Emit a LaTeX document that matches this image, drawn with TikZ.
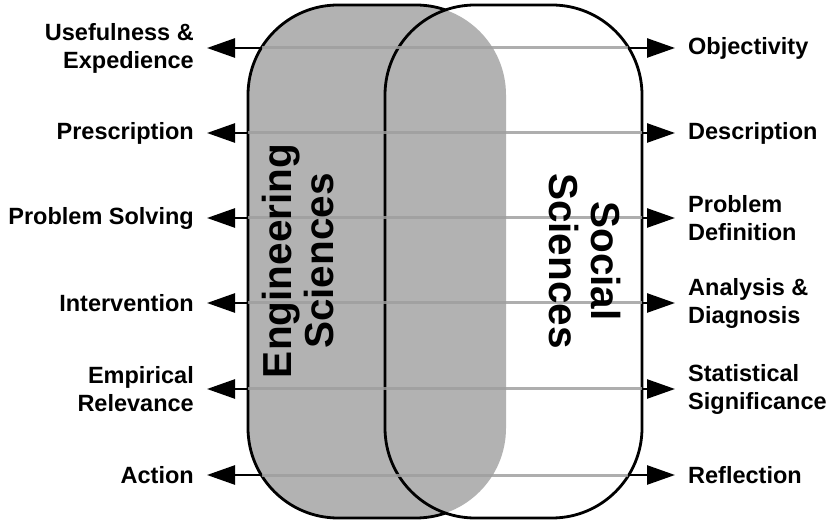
\documentclass[tikz,border=0pt]{standalone}
\usepackage{fontspec}
\setmainfont{Liberation Sans}
\usetikzlibrary{arrows.meta}

\tikzset{
	blob/.style={rounded corners=90pt},
	rim/.style={line width=2.8pt, blob},
	rowline/.style={draw=black!38, draw opacity=0.83, line width=3pt},
	arrowtip/.style={-{Triangle[length=28pt,width=19pt]}, line width=2.6pt},
	lab/.style={font=\fontsize{23.5}{28}\selectfont\bfseries, inner sep=0pt},
	big/.style={font=\fontsize{40.5}{42}\selectfont\bfseries, align=center, inner sep=0pt}
}

\begin{document}
\begin{tikzpicture}[x=1pt, y=1pt]
			%%%%% START %%%%%
			\useasboundingbox (0,0) rectangle (832,522);
			
			\fill[black!30, blob] (248,4) rectangle (506,517);
			\draw[rim] (248,4) rectangle (506,517);
			
			\begin{scope}
				\clip[blob] (385,4) rectangle (642,517);
				\fill[white] (380,0) rectangle (700,522);
				\fill[black!30, blob] (248,4) rectangle (506,517);
			\end{scope}
			\draw[rim] (385,4) rectangle (642,517);
			
			\foreach \y/\lx/\rx/\lt/\rt [count=\i] in {
				474/262/628/{Usefulness \&\\Expedience}/{Objectivity},
				389/248/642/{Prescription}/{Description},
				304/248/642/{Problem Solving}/{Problem\\Definition},
				219/248/642/{Intervention}/{Analysis \&\\Diagnosis},
				133/248/642/{Empirical\\Relevance}/{Statistical\\Significance},
				47/262/628/{Action}/{Reflection}}{
				\coordinate (a\i) at (\lx,\y);
				\coordinate (b\i) at (\rx,\y);
				\node[lab, align=right, anchor=east] (L\i) at (194,\y) {\lt};
				\node[lab, align=left, anchor=west] (R\i) at (688,\y) {\rt};
				\draw[rowline] (a\i) -- (b\i);
				\draw[arrowtip] (a\i) -- ([xshift=13pt]L\i.east);
				\draw[arrowtip] (b\i) -- ([xshift=-13pt]R\i.west);
			}
			
			\node[big, rotate=90] (eng) at (298,261) {Engineering\\Sciences};
			\node[big, rotate=-90] (soc) at (585,261) {Social\\Sciences};
			
			%%%%% END %%%%%
\end{tikzpicture}
\end{document}
